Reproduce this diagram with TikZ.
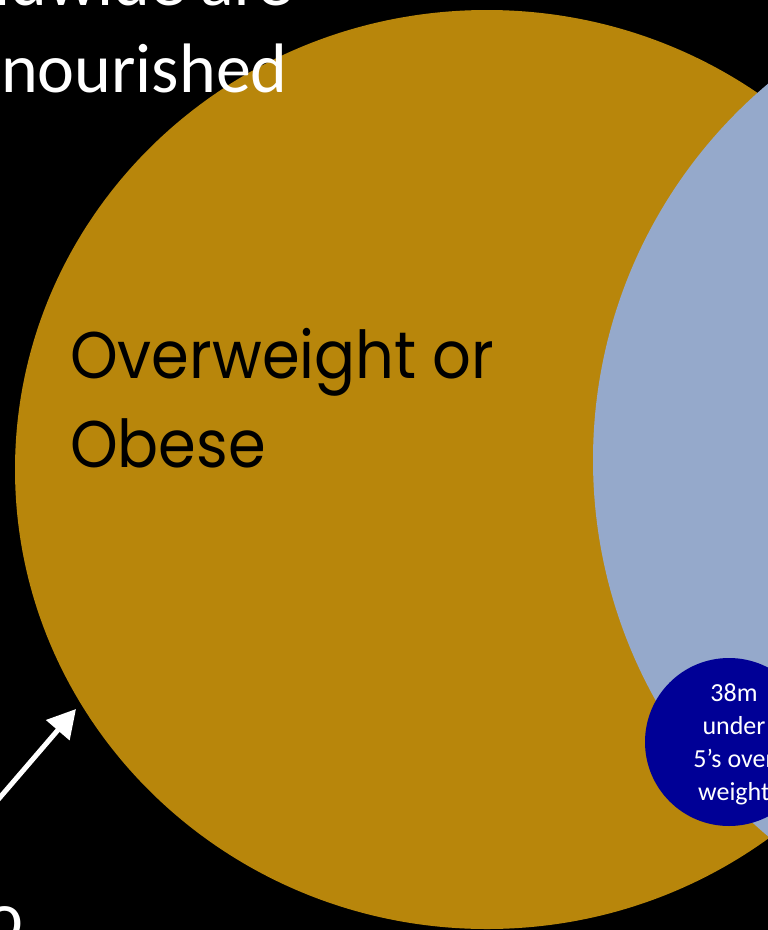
\documentclass[tikz,border=0pt]{standalone}
\usepackage{fontspec}
\setmainfont{Carlito}
\newfontfamily\geofont[FakeStretch=0.92]{Poppins}
\usetikzlibrary{arrows.meta}
\definecolor{goldc}{RGB}{184,134,11}
\definecolor{lightblue}{RGB}{149,169,203}
\definecolor{navyc}{RGB}{0,0,150}
\tikzset{
  whitetext/.style={text=white, inner sep=0pt, font=\fontsize{70}{85}\selectfont},
  bigtext/.style={text=black, inner sep=0pt, font=\geofont\fontsize{66}{80}\selectfont},
  smalltext/.style={text=white, inner sep=0pt, align=center, font=\fontsize{26}{32.7}\selectfont},
  pointer/.style={draw=white, line width=5pt, -{Triangle[length=28pt,width=30pt]}}
}
\begin{document}
\begin{tikzpicture}[x=1pt,y=-1pt]
\useasboundingbox (0,0) rectangle (768,930);
\clip (0,0) rectangle (768,930);
\fill[black] (0,0) rectangle (768,930);
% circles
\fill[goldc] (487,469.5) ellipse [x radius=472, y radius=459.5];
\fill[lightblue] (1085,460) circle [radius=492];
\fill[navyc] (729,742) circle [radius=84];
% texts
\node[whitetext, anchor=base east] (topline) at (293,5) {worldwide are};
\node[whitetext, anchor=base east] (nour) at (288,92) {nourished};
\node[whitetext, anchor=base east] (oletter) at (24,940) {o};
\node[bigtext, anchor=base west] (ow1) at (70,378) {Overweight or};
\node[bigtext, anchor=base west] (ow2) at (70,467) {Obese};
\node[smalltext, anchor=base] (stat) at (734,800) {38m\\under\\5’s over\\weight};
% arrow
\coordinate (arrowstart) at (-10,809);
\coordinate (arrowtip) at (76,709);
\draw[pointer] (arrowstart) -- (arrowtip);
\end{tikzpicture}
\end{document}
